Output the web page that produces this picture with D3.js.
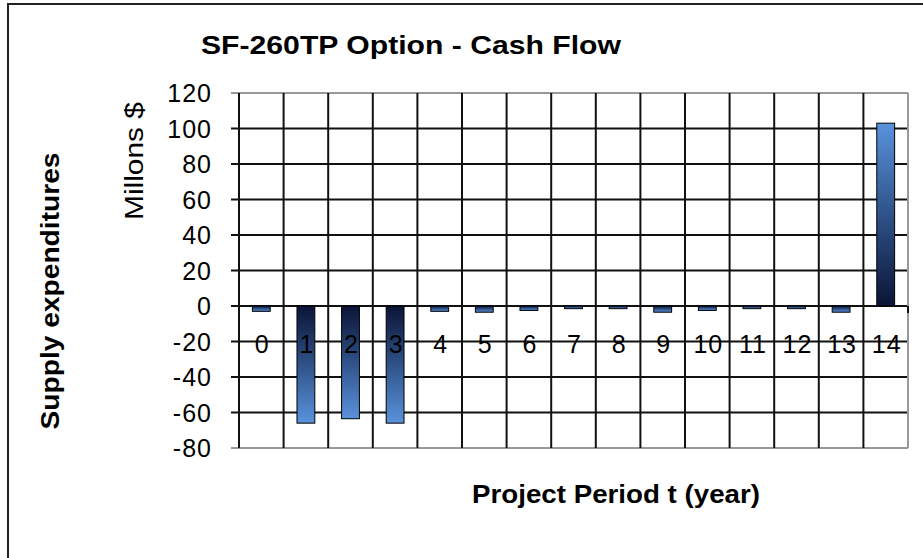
<!DOCTYPE html>
<html>
<head>
<meta charset="utf-8">
<script src="https://cdn.jsdelivr.net/npm/d3@7"></script>
<style>
  body { margin: 0; background: #fff; }
  text { font-family: Arial, "Liberation Sans", sans-serif; fill: #000; }
</style>
</head>
<body>
<script>
// chart data
const periods = ["0", "1", "2", "3", "4", "5", "6", "7", "8", "9", "10", "11", "12", "13", "14"];
const cashFlow = [-3, -66, -63.5, -66, -3, -3.5, -2.5, -1.5, -1.5, -3.5, -2.5, -1.5, -1.5, -3.5, 103];
const yTicks = [-80, -60, -40, -20, 0, 20, 40, 60, 80, 100, 120];

const width = 923,
  height = 558,
  plot = { left: 239, right: 908, top: 93, bottom: 448 };

const svg = d3.select("body")
  .append("svg")
  .attr("width", width)
  .attr("height", height);

// outer frame (runs off the right and bottom edges)
svg.append("rect")
  .attr("x", 8).attr("y", 4)
  .attr("width", 1000).attr("height", 1000)
  .attr("fill", "none")
  .attr("stroke", "#222")
  .attr("stroke-width", 2);

// gradient: dark at the zero line, light at the bar end
const defs = svg.append("defs");
const mkGrad = (id, x1, y1, x2, y2) => {
  const g = defs.append("linearGradient")
    .attr("id", id)
    .attr("x1", x1).attr("y1", y1).attr("x2", x2).attr("y2", y2);
  g.append("stop").attr("offset", "0%").attr("stop-color", "#0b1436");
  g.append("stop").attr("offset", "50%").attr("stop-color", "#2f5289");
  g.append("stop").attr("offset", "100%").attr("stop-color", "#5a92dc");
};
mkGrad("gradNeg", 0, 0, 0, 1);
mkGrad("gradPos", 0, 1, 0, 0);

const xScale = d3.scaleBand()
  .domain(periods)
  .range([plot.left, plot.right])
  .paddingInner(0)
  .paddingOuter(0);

const yScale = d3.scaleLinear()
  .domain([-80, 120])
  .range([plot.bottom, plot.top]);

// horizontal gridlines
svg.append("g")
  .selectAll("line")
  .data(yTicks)
  .join("line")
  .attr("x1", plot.left - 8)
  .attr("x2", plot.right)
  .attr("y1", d => yScale(d))
  .attr("y2", d => yScale(d))
  .attr("stroke", d => (d === 120 || d === -80) ? "#999" : "#111")
  .attr("stroke-width", 2);

// vertical gridlines at category boundaries
svg.append("g")
  .selectAll("line")
  .data(periods.slice(1))
  .join("line")
  .attr("x1", d => xScale(d))
  .attr("x2", d => xScale(d))
  .attr("y1", plot.top)
  .attr("y2", plot.bottom)
  .attr("stroke", "#111")
  .attr("stroke-width", 2);

// plot border on the right, y axis line on the left
svg.append("line")
  .attr("x1", plot.right).attr("x2", plot.right)
  .attr("y1", plot.top).attr("y2", plot.bottom)
  .attr("stroke", "#999").attr("stroke-width", 2);
svg.append("line")
  .attr("x1", plot.left).attr("x2", plot.left)
  .attr("y1", plot.top).attr("y2", plot.bottom)
  .attr("stroke", "#111").attr("stroke-width", 2);
svg.append("line")
  .attr("x1", plot.right).attr("x2", plot.right)
  .attr("y1", yScale(0)).attr("y2", yScale(0) + 7)
  .attr("stroke", "#111").attr("stroke-width", 2);

// y tick labels
svg.append("g")
  .selectAll("text")
  .data(yTicks)
  .join("text")
  .attr("x", plot.left - 27)
  .attr("y", d => yScale(d))
  .attr("dy", "0.36em")
  .attr("text-anchor", "end")
  .attr("font-size", 25)
  .attr("letter-spacing", 1)
  .text(d => d);

// bars
const barW = xScale.bandwidth() * 0.4;
svg.append("g")
  .selectAll("rect")
  .data(cashFlow)
  .join("rect")
  .attr("x", (d, i) => xScale(periods[i]) + (xScale.bandwidth() - barW) / 2)
  .attr("y", d => yScale(Math.max(0, d)))
  .attr("width", barW)
  .attr("height", d => Math.abs(yScale(d) - yScale(0)))
  .attr("fill", d => d < 0 ? "url(#gradNeg)" : "url(#gradPos)")
  .attr("stroke", "#000")
  .attr("stroke-width", 1);

// category labels sit just below the zero line
svg.append("g")
  .selectAll("text")
  .data(periods)
  .join("text")
  .attr("x", d => xScale(d) + xScale.bandwidth() / 2 + 1)
  .attr("y", yScale(0) + 38)
  .attr("dy", "0.36em")
  .attr("text-anchor", "middle")
  .attr("font-size", 25)
  .attr("letter-spacing", 1)
  .text(d => d);

// titles
svg.append("text")
  .attr("x", 411).attr("y", 54)
  .attr("text-anchor", "middle")
  .attr("font-size", 25)
  .attr("font-weight", "bold")
  .attr("textLength", 420)
  .attr("lengthAdjust", "spacingAndGlyphs")
  .text("SF-260TP Option - Cash Flow");

svg.append("text")
  .attr("x", 616).attr("y", 503)
  .attr("text-anchor", "middle")
  .attr("font-size", 25)
  .attr("font-weight", "bold")
  .attr("textLength", 288)
  .attr("lengthAdjust", "spacingAndGlyphs")
  .text("Project Period t (year)");

svg.append("text")
  .attr("transform", "translate(59,291) rotate(-90)")
  .attr("text-anchor", "middle")
  .attr("font-size", 25)
  .attr("font-weight", "bold")
  .attr("textLength", 277)
  .attr("lengthAdjust", "spacingAndGlyphs")
  .text("Supply expenditures");

svg.append("text")
  .attr("transform", "translate(143,161) rotate(-90)")
  .attr("text-anchor", "middle")
  .attr("font-size", 25)
  .attr("textLength", 118)
  .attr("lengthAdjust", "spacingAndGlyphs")
  .text("Millons $");
</script>
</body>
</html>
